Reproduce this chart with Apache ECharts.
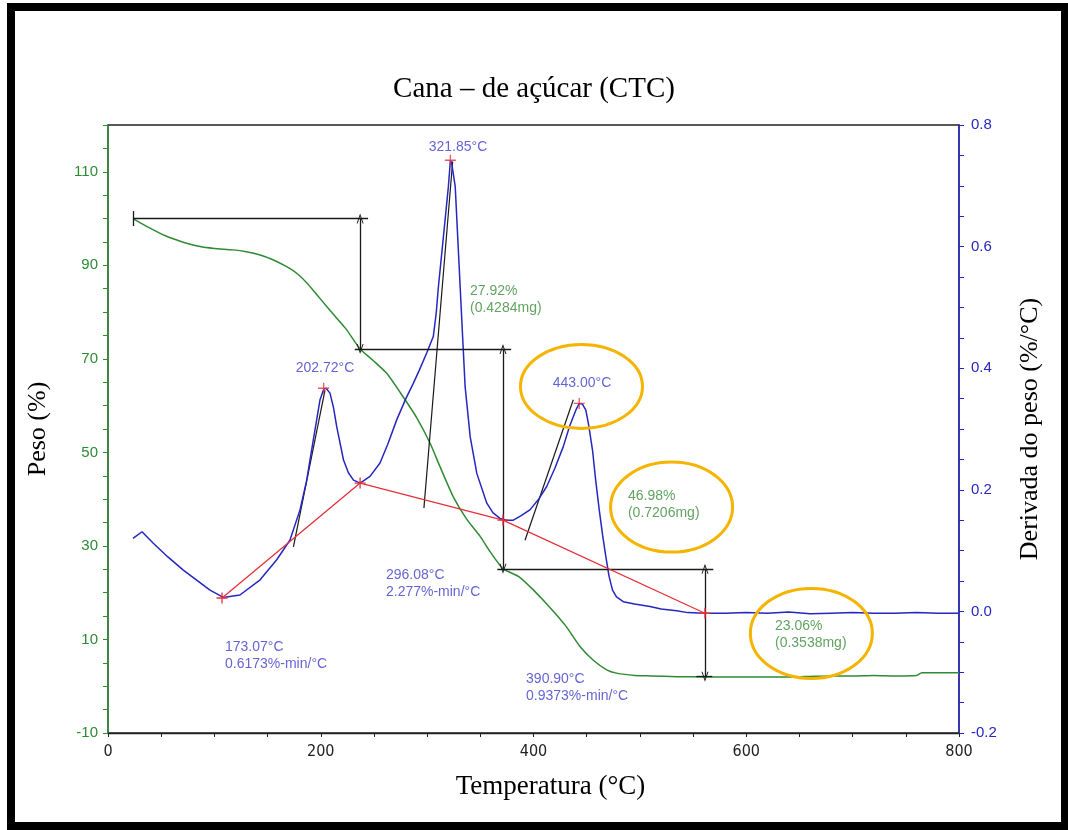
<!DOCTYPE html>
<html>
<head>
<meta charset="utf-8">
<title>Cana - de açúcar (CTC)</title>
<script src="https://cdn.jsdelivr.net/npm/echarts@6/dist/echarts.min.js"></script>
<style>
html, body { margin: 0; padding: 0; background: #fff; }
#main { width: 1068px; height: 830px; }
</style>
</head>
<body>
<div id="main"></div>
<script>
// TG curve: temperature (°C) / peso (%)
const tgTemp = [23.5, 35, 55, 70, 86.5, 100, 117.5, 130, 143, 155, 168, 178, 187, 196, 205.6, 215, 224.4, 237,
    250, 262, 275, 290, 302.7, 312, 324.6, 337, 349.7, 360, 371.5, 386.5, 399.8, 414.8, 431, 443.7, 456, 468.8,
    478, 495, 510, 535, 560, 600, 640, 660, 680, 700, 720, 740, 760, 765, 800]
const tgPeso = [100.0, 98.5, 96.2, 95.0, 94.0, 93.6, 93.3, 92.9, 92.2, 91.2, 89.7, 88.2, 86.2, 83.8, 81.2, 78.7, 76.2, 72.1,
    69.5, 66.9, 62.7, 57.5, 52.0, 47.0, 40.5, 35.8, 32.1, 28.5, 25.1, 23.4, 20.6, 17.0, 12.7, 8.5, 5.6, 3.5,
    2.8, 2.3, 2.2, 2.05, 2.0, 2.0, 2.0, 2.1, 2.2, 2.2, 2.3, 2.2, 2.3, 2.9, 2.9]

// DTG curve: temperature (°C) / derivada do peso (%/°C)
const dtgTemp = [23.5, 32, 42.6, 56, 70.8, 83, 95.9, 108.4, 124, 143, 158.6, 171, 180.5, 186.8, 193, 199.3, 203, 205,
    208.7, 212, 215, 221.4, 226, 230.8, 237, 246.3, 255.7, 263, 271.4, 280, 287, 293, 299.6, 305.8, 308.5, 310.6,
    315.3, 320, 321.9, 323.1, 326.4, 329.5, 332.6, 335.7, 340.5, 346.7, 356.1, 362, 368.5, 375, 381, 388, 396.6,
    405, 412.3, 420, 428, 434, 439.8, 443, 446, 449.2, 452, 455.5, 458.5, 461.8, 465, 468, 471, 474.3, 478, 484.4,
    495, 509.5, 520, 534.6, 545, 559.6, 580, 600, 620, 640, 660, 680, 700, 720, 740, 760, 780, 800]
const dtgDeriv = [0.120, 0.131, 0.112, 0.090, 0.068, 0.052, 0.035, 0.023, 0.027, 0.052, 0.085, 0.117, 0.167, 0.216, 0.282, 0.348, 0.366, 0.367,
    0.359, 0.335, 0.304, 0.249, 0.228, 0.216, 0.211, 0.222, 0.244, 0.275, 0.315, 0.350, 0.375, 0.398, 0.425, 0.452, 0.490, 0.534,
    0.616, 0.699, 0.742, 0.737, 0.699, 0.589, 0.479, 0.370, 0.287, 0.227, 0.178, 0.162, 0.153, 0.150, 0.150, 0.157, 0.167,
    0.185, 0.205, 0.235, 0.271, 0.305, 0.331, 0.342, 0.341, 0.331, 0.305, 0.265, 0.215, 0.167, 0.125, 0.090, 0.058, 0.035, 0.024, 0.016,
    0.012, 0.008, 0.004, 0.001, -0.002, -0.003, -0.003, -0.002, -0.003, -0.001, -0.004, -0.003, -0.002, -0.003, -0.003, -0.002, -0.003, -0.003]

// red baseline between DTG minima
const baseTemp = [107.2, 237, 371.3, 561.2]
const baseDeriv = [0.022, 0.211, 0.150, -0.003]

// DTG peaks
const peakTemp = [202.72, 321.85, 443.00]
const peakDeriv = [0.367, 0.742, 0.342]
const peakNoteTemp = [204, 329, 445.6]
const peakNotePeso = [68.1, 115.3, 64.7]

// onset tangents [t1, d1, t2, d2]
const tangents = [[174.3, 0.106, 204, 0.364], [297, 0.170, 324, 0.740], [392, 0.117, 437.4, 0.348]]

// mass loss steps
const stepTemp = [237, 371.3, 561.2]
const stepLevel = [100, 72.08, 25.10, 2.04]
const stepLineFrom = [23.5, 232, 366, 553]
const stepLineTo = [244.5, 379, 569, 568]

// text notes [text, temp, peso]
const rateNotes = [['173.07°C\n0.6173%-min/°C', 110, 6.5], ['296.08°C\n2.277%-min/°C', 261.3, 21.9], ['390.90°C\n0.9373%-min/°C', 393, -0.4]]
const lossNotes = [['27.92%\n(0.4284mg)', 340.3, 82.6], ['46.98%\n(0.7206mg)', 488.8, 38.8], ['23.06%\n(0.3538mg)', 627, 11.0]]

// highlighted spots (centre, temp / peso)
const highlightTemp = [445.1, 529.8, 661.2]
const highlightPeso = [64.1, 38.3, 11.3]

const GREEN = '#2e8b34'
const BLUE = '#2626c0'
const RED = '#e5303a'
const NOTE_BLUE = '#3c3cc8'
const NOTE_GREEN = '#3a8c3a'
const sans = '"Liberation Sans", Arial, sans-serif'
const serif = '"Liberation Serif", "Times New Roman", serif'

const plusSymbol = 'path://M4.4,0 L5.6,0 L5.6,4.4 L10,4.4 L10,5.6 L5.6,5.6 L5.6,10 L4.4,10 L4.4,5.6 L0,5.6 L0,4.4 L4.4,4.4 Z'
const chevron = 'path://M0,10 L5,0 L10,10 L8.6,10 L5,2.8 L1.4,10 Z'

const chart = echarts.init(document.getElementById('main'))

// black step annotations (arrows + level lines)
var stepMarks = []
for (var i = 0; i < stepLineFrom.length; i++) {
    stepMarks.push([{ coord: [stepLineFrom[i], stepLevel[i]], symbol: 'none' }, { coord: [stepLineTo[i], stepLevel[i]], symbol: 'none' }])
}
for (var i = 0; i < stepTemp.length; i++) {
    stepMarks.push([{ coord: [stepTemp[i], stepLevel[i]], symbol: chevron }, { coord: [stepTemp[i], stepLevel[i + 1]], symbol: chevron }])
}
// start bar of first line
stepMarks.push([{ coord: [stepLineFrom[0], stepLevel[0] + 1.6], symbol: 'none' }, { coord: [stepLineFrom[0], stepLevel[0] - 1.6], symbol: 'none' }])

var series = [
    {
        name: 'TG', type: 'line', yAxisIndex: 0, showSymbol: false, smooth: 0.2,
        data: tgTemp.map((t, i) => [t, tgPeso[i]]),
        lineStyle: { color: GREEN, width: 1.5 }, itemStyle: { color: GREEN }, z: 3
    },
    {
        name: 'DTG', type: 'line', yAxisIndex: 1, showSymbol: false,
        data: dtgTemp.map((t, i) => [t, dtgDeriv[i]]),
        lineStyle: { color: BLUE, width: 1.5 }, itemStyle: { color: BLUE }, z: 4
    },
    {
        name: 'base', type: 'line', yAxisIndex: 1, symbol: plusSymbol, symbolSize: 11,
        data: baseTemp.map((t, i) => [t, baseDeriv[i]]),
        lineStyle: { color: RED, width: 1.3 }, itemStyle: { color: RED }, z: 5
    },
    {
        name: 'peaks', type: 'scatter', yAxisIndex: 1, symbol: plusSymbol, symbolSize: 11,
        data: peakTemp.map((t, i) => [t, peakDeriv[i]]),
        itemStyle: { color: RED }, z: 5
    },
    {
        name: 'steps', type: 'line', yAxisIndex: 0, data: [],
        markLine: {
            silent: true, symbolSize: [7, 10], label: { show: false },
            lineStyle: { color: '#1a1a1a', width: 1.3, type: 'solid' },
            data: stepMarks
        }
    },
    {
        name: 'peakNotes', type: 'scatter', yAxisIndex: 0, symbolSize: 0,
        data: peakTemp.map((t, i) => ({ value: [peakNoteTemp[i], peakNotePeso[i]], name: t.toFixed(2) + '°C' })),
        label: { show: true, position: 'inside', formatter: '{b}', color: NOTE_BLUE, fontFamily: sans, fontSize: 14 }
    },
    {
        name: 'rateNotes', type: 'scatter', yAxisIndex: 0, symbolSize: 0,
        data: rateNotes.map(n => ({ value: [n[1], n[2]], name: n[0] })),
        label: { show: true, position: 'right', distance: 0, align: 'left', formatter: '{b}', color: NOTE_BLUE, fontFamily: sans, fontSize: 14, lineHeight: 17 }
    },
    {
        name: 'lossNotes', type: 'scatter', yAxisIndex: 0, symbolSize: 0,
        data: lossNotes.map(n => ({ value: [n[1], n[2]], name: n[0] })),
        label: { show: true, position: 'right', distance: 0, align: 'left', formatter: '{b}', color: NOTE_GREEN, fontFamily: sans, fontSize: 14, lineHeight: 17 }
    }
]
tangents.forEach(function (tg, k) {
    series.push({
        name: 'tangent' + k, type: 'line', yAxisIndex: 1, showSymbol: false,
        data: [[tg[0], tg[1]], [tg[2], tg[3]]],
        lineStyle: { color: '#1a1a1a', width: 1.2 }, z: 3
    })
})

chart.setOption({
    animation: false,
    backgroundColor: '#fff',
    title: {
        text: 'Cana – de açúcar (CTC)', left: 'center', top: 70,
        textStyle: { fontFamily: serif, fontWeight: 'normal', fontSize: 29, color: '#000' }
    },
    grid: { left: 108, right: 109, top: 125, bottom: 97, show: true, borderColor: '#222', borderWidth: 1.3 },
    xAxis: {
        type: 'value', min: 0, max: 800, interval: 50,
        name: 'Temperatura (°C)', nameLocation: 'middle', nameGap: 40,
        nameTextStyle: { fontFamily: serif, fontSize: 27, color: '#000', padding: [0, 0, 0, 34] },
        axisLine: { onZero: false, lineStyle: { color: '#222', width: 1.3 } },
        axisTick: { length: 4, lineStyle: { color: '#222' } },
        axisLabel: {
            margin: 11, color: '#222', fontSize: 16, fontFamily: '"Liberation Sans Narrow", "DejaVu Sans Condensed", sans-serif',
            formatter: v => (v % 200 === 0 ? String(v) : '')
        },
        splitLine: { show: false }
    },
    yAxis: [
        {
            type: 'value', min: -10, max: 120, interval: 5, position: 'left',
            name: 'Peso (%)', nameLocation: 'middle', nameRotate: 90, nameGap: 57,
            nameTextStyle: { fontFamily: serif, fontSize: 26, color: '#000' },
            axisLine: { show: true, onZero: false, lineStyle: { color: GREEN, width: 1.5 } },
            axisTick: { length: 5, lineStyle: { color: GREEN } },
            axisLabel: {
                margin: 10, color: GREEN, fontSize: 15, fontFamily: sans,
                formatter: v => ((Math.round(v) + 10) % 20 === 0 && v < 115 ? String(Math.round(v)) : '')
            },
            splitLine: { show: false }
        },
        {
            type: 'value', min: -0.2, max: 0.8, interval: 0.05, position: 'right',
            name: 'Derivada do peso (%/°C)', nameLocation: 'middle', nameRotate: 90, nameGap: 58,
            nameTextStyle: { fontFamily: serif, fontSize: 26, color: '#000' },
            axisLine: { show: true, onZero: false, lineStyle: { color: BLUE, width: 1.5 } },
            axisTick: { length: 5, lineStyle: { color: BLUE } },
            axisLabel: {
                margin: 12, color: BLUE, fontSize: 15, fontFamily: sans,
                formatter: v => (Math.abs(Math.round(v * 100)) % 20 === 0 ? v.toFixed(1) : '')
            },
            splitLine: { show: false }
        }
    ],
    series: series
})

// orange highlight rings + outer frame
var rings = highlightTemp.map(function (t, i) {
    var p = chart.convertToPixel({ xAxisIndex: 0, yAxisIndex: 0 }, [t, highlightPeso[i]])
    return {
        type: 'ellipse', z: 100, silent: true,
        shape: { cx: p[0], cy: p[1], rx: 61, ry: i === 0 ? 42 : 45 },
        style: { fill: 'none', stroke: '#f4b400', lineWidth: 3 }
    }
})
rings.push({
    type: 'rect', z: 100, silent: true,
    shape: { x: 11, y: 7, width: 1054, height: 819 },
    style: { fill: 'none', stroke: '#000', lineWidth: 8 }
})
chart.setOption({ graphic: rings })
</script>
</body>
</html>
